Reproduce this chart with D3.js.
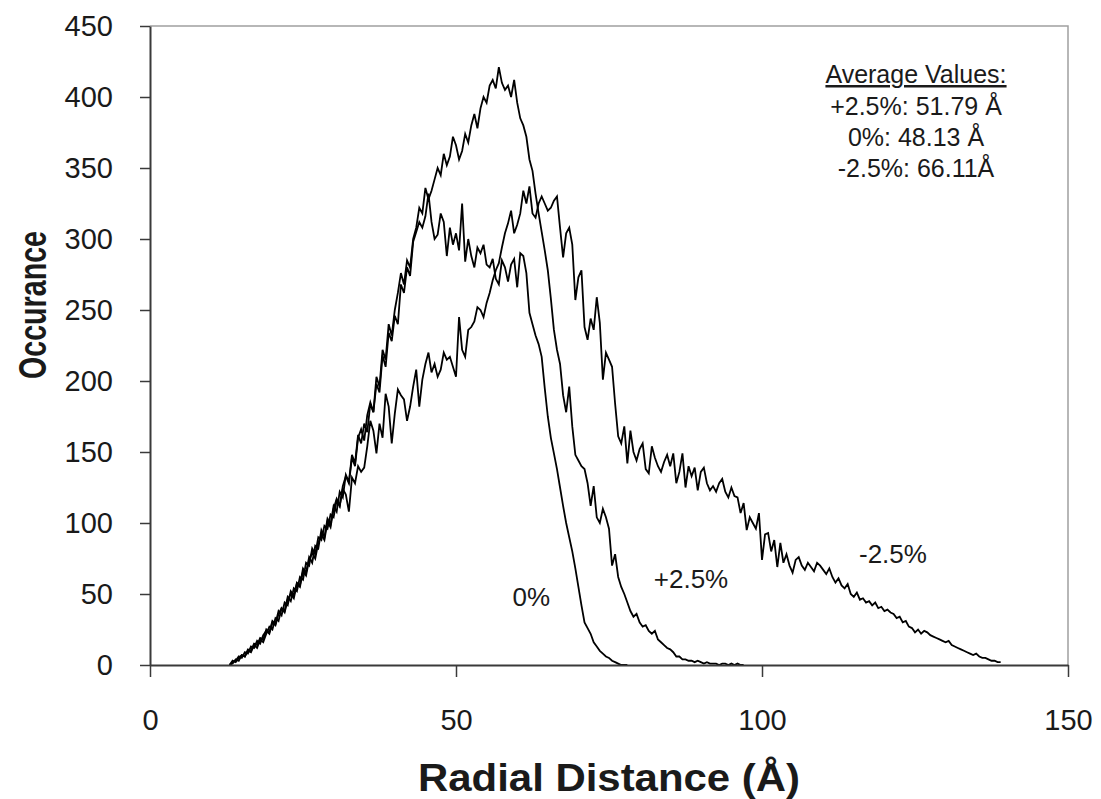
<!DOCTYPE html>
<html>
<head>
<meta charset="utf-8">
<script src="https://cdn.jsdelivr.net/npm/d3@7"></script>
<style>
  body { margin: 0; background: #fff; }
  text { font-family: "Liberation Sans", Arial, sans-serif; fill: #1a1a1a; }
</style>
</head>
<body>
<script>
// histogram bins: 0.5 Å wide, first bin at 13 Å
var binStart = 13;
var binWidth = 0.5;

// +2.5%  (13 .. 97 Å)
var occPlus25 = [
  0,2,3,6,5,9,8,13,12,17,
  15,21,24,22,30,28,36,40,37,46,
  50,47,57,55,66,63,74,79,75,86,
  92,88,101,97,110,117,112,126,133,128,
  146,140,160,166,158,176,185,178,203,196,
  222,215,240,232,250,262,276,268,285,280,
  300,308,322,318,336,328,334,342,350,345,
  360,352,358,372,366,356,362,374,368,380,
  388,378,392,400,396,408,412,406,421,410,
  405,408,400,412,396,385,380,372,356,348,
  332,318,305,292,278,258,236,222,212,190,
  178,196,168,148,144,140,138,128,112,126,
  104,100,110,104,96,70,78,62,55,50,
  44,38,34,36,30,27,28,24,22,24,
  18,16,14,12,11,9,6,6,4,4,
  3,3,2,3,2,1,2,1,1,1,
  0,1,1,0,1,0,1,0,0
];

// 0%  (13 .. 78 Å)
var occZero = [
  0,1,4,3,7,6,11,10,15,14,
  19,18,25,23,31,29,38,35,44,42,
  52,49,58,56,68,65,76,72,84,82,
  95,90,103,99,112,108,122,118,134,129,
  148,142,162,156,170,164,184,178,198,192,
  218,210,234,228,246,240,268,262,280,274,
  298,305,312,308,316,332,312,300,303,318,
  312,288,308,296,304,292,325,284,300,288,
  280,294,290,296,282,280,286,272,268,285,
  280,270,282,286,266,290,288,276,248,240,
  232,226,217,195,175,160,149,138,125,112,
  100,90,80,68,55,42,30,26,22,16,
  13,10,8,6,5,3,2,1,0,0,
  0
];

// -2.5%  (13 .. 139 Å)
var occMinus25 = [
  0,3,2,5,7,6,10,9,14,12,
  18,16,22,27,25,33,31,40,38,48,
  45,54,52,62,60,72,70,82,78,90,
  88,98,96,106,104,116,112,124,120,108,
  132,128,140,136,139,154,172,165,149,170,
  160,191,182,156,177,194,190,187,172,182,
  196,208,182,201,212,220,206,212,203,208,
  220,215,217,210,203,245,222,217,236,238,
  242,252,250,245,255,262,271,278,283,294,
  304,311,320,304,310,318,334,325,337,318,
  315,325,330,325,320,322,327,330,308,287,
  304,308,296,257,273,278,238,229,244,236,
  259,241,201,220,215,210,184,161,156,168,
  142,165,150,144,152,156,138,135,154,146,
  140,136,143,148,140,149,128,136,149,125,
  140,133,139,123,136,139,128,123,126,122,
  128,131,122,118,125,119,118,107,114,95,
  104,100,96,107,74,92,93,80,88,69,
  86,72,78,70,65,74,76,70,67,72,
  69,66,72,70,67,64,68,62,58,61,
  56,54,57,50,48,51,46,47,44,45,
  42,44,40,41,38,39,37,36,33,34,
  30,31,27,26,23,25,22,24,23,21,
  20,19,18,17,16,17,14,13,12,11,
  10,9,8,7,8,6,5,5,4,3,
  3,2,2
];

var xTicks = [0, 50, 100, 150];
var yTicks = [0, 50, 100, 150, 200, 250, 300, 350, 400, 450];

var seriesNames = ['+2.5%', '0%', '-2.5%'];
var averages = ['+2.5%: 51.79 Å', '0%: 48.13 Å', '-2.5%: 66.11Å'];

var width = 1101, height = 799;
// plot box (note: "top" is taken by window.top)
var plotL = 150, plotR = 1068, plotT = 26, plotB = 665;

var svg = d3.select('body').append('svg')
  .attr('width', width)
  .attr('height', height);

var x = d3.scaleLinear().domain([0, 150]).range([plotL, plotR]);
var y = d3.scaleLinear().domain([0, 450]).range([plotB, plotT]);

// plot area frame (top + right are light grey)
svg.append('path')
  .attr('d', 'M' + plotL + ',' + plotT + 'H' + plotR + 'V' + plotB)
  .attr('fill', 'none')
  .attr('stroke', '#a0a0a0')
  .attr('stroke-width', 1.5);

// turn a bin array into points
function toPoints(arr) {
  return arr.map(function (v, i) { return [binStart + i * binWidth, v]; });
}

var line = d3.line()
  .x(function (d) { return x(d[0]); })
  .y(function (d) { return y(d[1]); });

var series = [occPlus25, occZero, occMinus25];
svg.selectAll('.curve')
  .data(series)
  .enter()
  .append('path')
  .attr('class', 'curve')
  .attr('d', function (d) { return line(toPoints(d)); })
  .attr('fill', 'none')
  .attr('stroke', '#000')
  .attr('stroke-width', 1.8)
  .attr('stroke-linejoin', 'miter');

// axes
var yAxis = svg.append('g')
  .attr('transform', 'translate(' + plotL + ',0)')
  .call(d3.axisLeft(y).tickValues(yTicks).tickSize(10).tickSizeOuter(0).tickPadding(27));
var xAxis = svg.append('g')
  .attr('transform', 'translate(0,' + plotB + ')')
  .call(d3.axisBottom(x).tickValues(xTicks).tickSize(12).tickSizeOuter(0).tickPadding(32));

[xAxis, yAxis].forEach(function (ax) {
  ax.select('.domain').attr('stroke', '#3a3a3a').attr('stroke-width', 2);
  ax.selectAll('.tick line').attr('stroke', '#3a3a3a').attr('stroke-width', 1.5);
  ax.selectAll('.tick text').style('font-size', '29px').attr('fill', '#1a1a1a');
});

// axis titles
svg.append('text')
  .attr('x', 609).attr('y', 791)
  .attr('text-anchor', 'middle')
  .style('font-size', '38px').style('font-weight', 'bold')
  .attr('textLength', 382).attr('lengthAdjust', 'spacingAndGlyphs')
  .text('Radial Distance (Å)');

svg.append('text')
  .attr('transform', 'translate(46,305) rotate(-90)')
  .attr('text-anchor', 'middle')
  .style('font-size', '38px').style('font-weight', 'bold')
  .attr('textLength', 148).attr('lengthAdjust', 'spacingAndGlyphs')
  .text('Occurance');

// curve labels, anchored in data units
var labelPos = [[88.4, 54], [62.3, 41.5], [121.4, 72]];
svg.selectAll('.slabel')
  .data(seriesNames)
  .enter()
  .append('text')
  .attr('class', 'slabel')
  .attr('x', function (d, i) { return x(labelPos[i][0]); })
  .attr('y', function (d, i) { return y(labelPos[i][1]); })
  .attr('text-anchor', 'middle')
  .style('font-size', '26px')
  .text(function (d) { return d; });

// averages box
var boxX = 916;
svg.append('text')
  .attr('x', boxX).attr('y', 83)
  .attr('text-anchor', 'middle')
  .style('font-size', '25px')
  .style('text-decoration', 'underline')
  .text('Average Values:');

svg.selectAll('.avg')
  .data(averages)
  .enter()
  .append('text')
  .attr('class', 'avg')
  .attr('x', boxX)
  .attr('y', function (d, i) { return 115 + i * 31; })
  .attr('text-anchor', 'middle')
  .style('font-size', '25px')
  .text(function (d) { return d; });
</script>
</body>
</html>
